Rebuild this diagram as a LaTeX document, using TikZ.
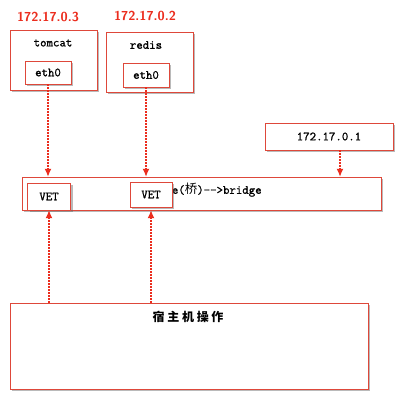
\documentclass[tikz,border=0pt]{standalone}
\usepackage{fontspec}
\setmainfont{Liberation Sans}
\setmonofont{Latin Modern Mono}[FakeBold=1.2]
\newfontfamily\cjk{Noto Sans CJK SC}
\usepackage{xcolor}
\usepackage{tikz}
\usetikzlibrary{shapes, arrows.meta, positioning, shadows}

\definecolor{boxred}{RGB}{222,72,58}
\definecolor{linkred}{RGB}{235,45,30}

\begin{document}
\begin{tikzpicture}[
    x=1pt, y=-1pt,
    font=\ttfamily\fontsize{12.5}{14}\selectfont,
    box/.style={
        draw=boxred,
        fill=white,
        inner sep=0pt,
        drop shadow={shadow xshift=2pt, shadow yshift=-2pt, opacity=0.45, fill=black!60}
    },
    iplabel/.style={
        font=\sffamily\bfseries\fontsize{13}{15}\selectfont,
        text=linkred
    },
    link/.style={draw=linkred, -{Latex[length=8pt,width=7pt]}, line width=1.3pt,
        dash pattern=on 2pt off 1pt}
]
\useasboundingbox (0,0) rectangle (404,401);

% containers
\node[box, minimum width=87pt, minimum height=60pt] (tomcat) at (53.5,60) {};
\node (tomcatname) at (53,43) {tomcat};
\node[box, minimum width=46pt, minimum height=23pt] (eth1) at (48,72.5) {eth0};
\node[iplabel] (ip1) at (48,17) {172.17.0.3};

\node[box, minimum width=87pt, minimum height=60pt] (redis) at (149.5,62) {};
\node (redisname) at (146,45) {redis};
\node[box, minimum width=46pt, minimum height=24pt] (eth2) at (146,75) {eth0};
\node[iplabel] (ip2) at (145,16) {172.17.0.2};

% gateway
\node[box, minimum width=128pt, minimum height=27pt] (gw) at (329,136.5) {172.17.0.1};

% bridge
\node[box, minimum width=359pt, minimum height=33pt] (bridge) at (201.5,193.5) {};
\node[anchor=west, inner sep=0pt] (bridgetxt) at (139.5,190) {bridg{}e({\cjk 桥})-->bridge};
\node[box, minimum width=43pt, minimum height=27pt] (vet1) at (49,196.5) {VET};
\node[box, minimum width=42pt, minimum height=25pt] (vet2) at (151,194.5) {VET};

% host
\node[box, minimum width=358pt, minimum height=86pt] (host) at (189,346) {};
\node[font=\cjk\bfseries\fontsize{12}{14}\selectfont] (hosttxt) at (188,317) {宿 主 机 操 作};

\draw[link] (eth1.south) -- (eth1.south |- bridge.north);
\draw[link] (eth2.south) -- (eth2.south |- bridge.north);
\draw[link] ([xshift=11pt]gw.south) -- ([xshift=11pt]gw.south |- bridge.north);

\draw[link] (host.north -| vet1.south) -- (vet1.south);
\draw[link] (host.north -| vet2.south) -- (vet2.south |- bridge.south);

\end{tikzpicture}
\end{document}
